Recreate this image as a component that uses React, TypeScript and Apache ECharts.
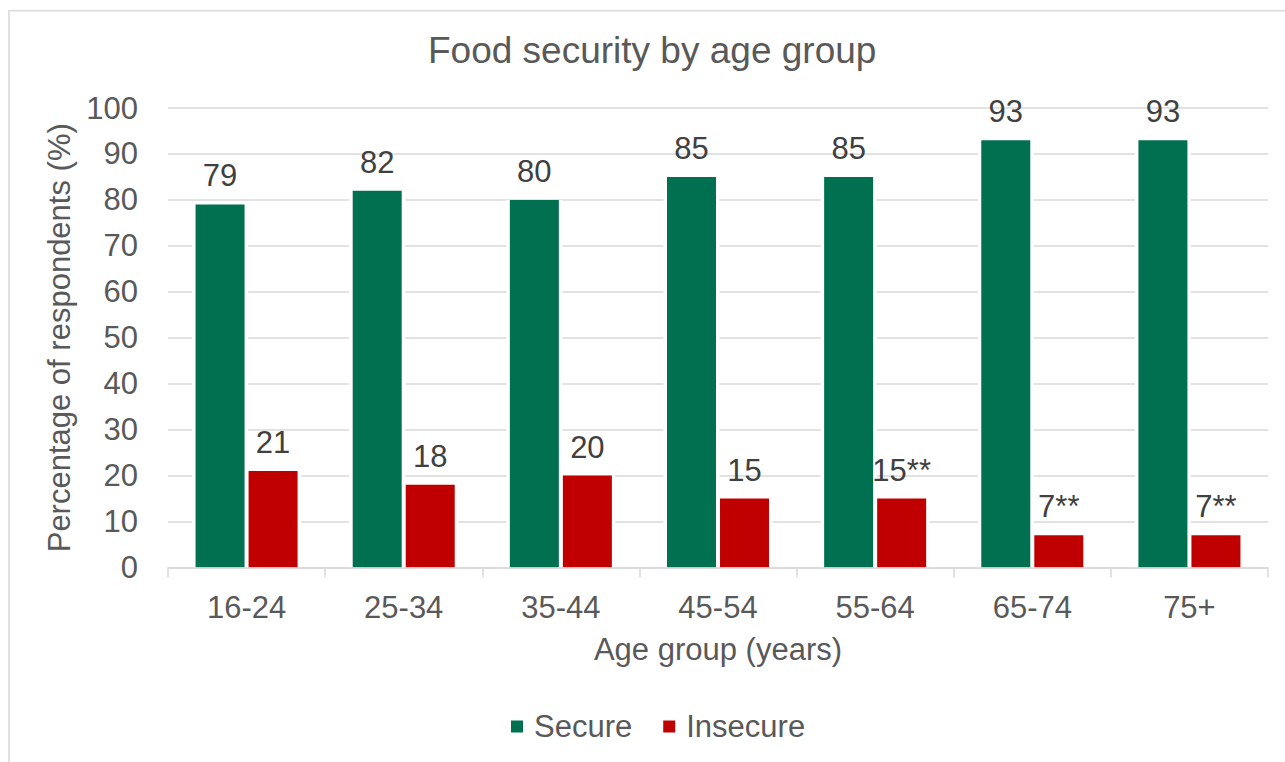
import React, { useEffect, useRef } from "react";
import * as echarts from "echarts";

// Age bands on the category axis
const ageGroups = ["16-24", "25-34", "35-44", "45-54", "55-64", "65-74", "75+"];
// Share of respondents (%) per age band
const secureValues = [79, 82, 80, 85, 85, 93, 93];
const insecureValues = [21, 18, 20, 15, 15, 7, 7];
// Footnote markers appended to the insecure labels
const insecureNotes = ["", "", "", "", "**", "**", "**"];
// Value axis ticks
const yTicks = { min: 0, max: 100, step: 10 };

const FONT = "'Liberation Sans', Arial, sans-serif";
const GREEN = "#007050";
const RED = "#C00000";
const TEXT = "#595959";
const LABEL = "#404040";
const GRID = "#D9D9D9";

export default function App() {
  const ref = useRef<HTMLDivElement>(null);

  useEffect(() => {
    if (!ref.current) return;
    const chart = echarts.init(ref.current, undefined, { renderer: "svg" });

    const option = {
      animation: false,
      backgroundColor: "#ffffff",
      textStyle: { fontFamily: FONT },
      graphic: [
        {
          type: "rect",
          silent: true,
          shape: { x: 9, y: 10.7, width: 1400, height: 900 },
          style: { fill: "none", stroke: GRID, lineWidth: 1.5 },
        },
      ],
      title: {
        text: "Food security by age group",
        left: 428,
        top: 32,
        padding: 0,
        textStyle: { fontFamily: FONT, fontSize: 37, fontWeight: "normal", color: TEXT },
      },
      legend: {
        data: ["Secure", "Insecure"],
        left: 511,
        top: 711,
        padding: 0,
        icon: "rect",
        itemWidth: 12,
        itemHeight: 12,
        itemGap: 31,
        textStyle: { fontFamily: FONT, fontSize: 31, color: TEXT, padding: [0, 0, 0, 6] },
      },
      grid: { left: 168, right: 17, top: 108, bottom: 194.5 },
      xAxis: [
        {
          type: "category",
          data: ageGroups,
          z: 3,
          name: "Age group (years)",
          nameLocation: "middle",
          nameGap: 66,
          nameTextStyle: { fontFamily: FONT, fontSize: 31, color: TEXT },
          axisLine: { lineStyle: { color: GRID, width: 1.5 } },
          axisTick: { show: true, length: 10, lineStyle: { color: GRID, width: 1.5 } },
          axisLabel: { fontFamily: FONT, fontSize: 31, color: TEXT, margin: 24 },
        },
        {
          // hidden twin axis carrying the white outlines behind the bars
          type: "category",
          data: ageGroups,
          show: false,
        },
      ],
      yAxis: {
        type: "value",
        min: yTicks.min,
        max: yTicks.max,
        interval: yTicks.step,
        name: "Percentage of respondents (%)",
        nameLocation: "middle",
        nameGap: 87,
        nameTextStyle: { fontFamily: FONT, fontSize: 31, color: TEXT },
        axisLine: { show: false },
        axisTick: { show: false },
        axisLabel: { fontFamily: FONT, fontSize: 31, color: TEXT, margin: 30 },
        splitLine: { lineStyle: { color: GRID, width: 1.5 } },
      },
      series: [
        {
          name: "secure-outline",
          type: "bar",
          xAxisIndex: 1,
          data: secureValues,
          barWidth: 56,
          silent: true,
          z: 1,
          itemStyle: { color: "#ffffff" },
        },
        {
          name: "insecure-outline",
          type: "bar",
          xAxisIndex: 1,
          data: insecureValues,
          barWidth: 56,
          barGap: "-5.4%",
          silent: true,
          z: 1,
          itemStyle: { color: "#ffffff" },
        },
        {
          name: "Secure",
          type: "bar",
          xAxisIndex: 0,
          data: secureValues,
          barWidth: 49,
          z: 2,
          itemStyle: { color: GREEN },
          label: {
            show: true,
            position: "top",
            distance: 13,
            fontFamily: FONT,
            fontSize: 31,
            color: LABEL,
          },
        },
        {
          name: "Insecure",
          type: "bar",
          xAxisIndex: 0,
          data: insecureValues,
          barWidth: 49,
          barGap: "8.2%",
          z: 2,
          itemStyle: { color: RED },
          label: {
            show: true,
            position: "top",
            distance: 13,
            fontFamily: FONT,
            fontSize: 31,
            color: LABEL,
            formatter: (p: any) => `${p.value}${insecureNotes[p.dataIndex]}`,
          },
        },
      ],
    };

    chart.setOption(option as any);
    return () => chart.dispose();
  }, []);

  return (
    <div
      style={{ position: "fixed", left: 0, top: 0, width: 1285, height: 762, background: "#fff" }}
    >
      <div ref={ref} style={{ width: 1285, height: 762 }} />
    </div>
  );
}
